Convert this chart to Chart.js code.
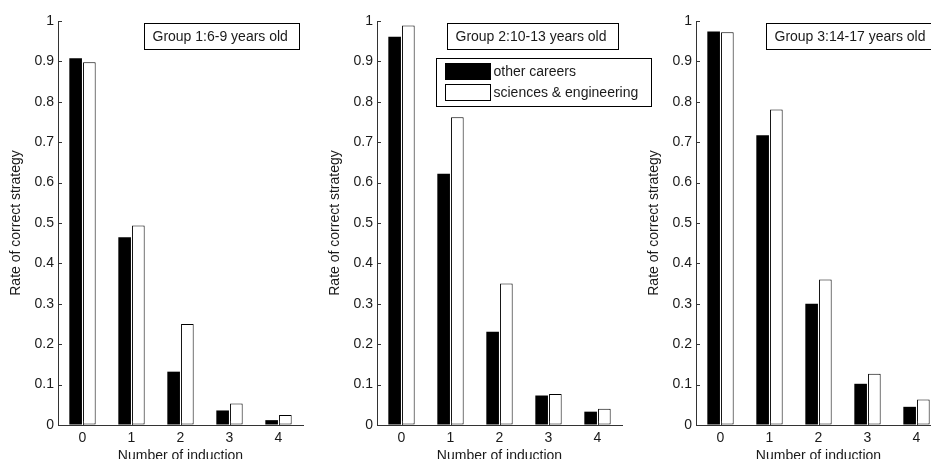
<!DOCTYPE html>
<html>
<head>
<meta charset="utf-8">
<script src="https://cdn.jsdelivr.net/npm/chart.js@4/dist/chart.umd.min.js"></script>
<style>
  html, body { margin: 0; padding: 0; background: #fff; }
  #wrap { position: relative; width: 931px; height: 459px; overflow: hidden; }
  #wrap canvas { position: absolute; left: 0; top: 0; }
</style>
</head>
<body>
<div id="wrap">
  <canvas id="c1" width="960" height="459"></canvas>
  <canvas id="c2" width="960" height="459"></canvas>
  <canvas id="c3" width="960" height="459"></canvas>
</div>
<script>
// data
const inductions = [0, 1, 2, 3, 4];
const yTicks = [0, 0.1, 0.2, 0.3, 0.4, 0.5, 0.6, 0.7, 0.8, 0.9, 1];
const seriesNames = ['other careers', 'sciences & engineering'];
const groupTitles = ['Group 1:6-9 years old', 'Group 2:10-13 years old', 'Group 3:14-17 years old'];

const g1Other = [0.908, 0.465, 0.132, 0.036, 0.012];
const g1Science = [0.898, 0.494, 0.250, 0.053, 0.025];
const g2Other = [0.961, 0.622, 0.231, 0.073, 0.033];
const g2Science = [0.989, 0.762, 0.350, 0.077, 0.040];
const g3Other = [0.974, 0.717, 0.300, 0.102, 0.045];
const g3Science = [0.972, 0.781, 0.360, 0.127, 0.063];

const FONT = 'Liberation Sans, Arial, sans-serif';
const TXT = '#1a1a1a';
const AXIS = '#333';

// inside tick marks + the boxed group title (+ legend on the middle plot)
const decor = {
  id: 'decor',
  afterDraw(chart, args, opts) {
    const ctx = chart.ctx;
    const a = chart.chartArea;
    const xs = chart.scales.x, ys = chart.scales.y;
    ctx.save();
    ctx.strokeStyle = AXIS;
    ctx.lineWidth = 1;
    ctx.beginPath();
    yTicks.forEach(v => {
      const y = Math.round(ys.getPixelForValue(v)) + 0.5;
      ctx.moveTo(a.left, y); ctx.lineTo(a.left + 4, y);
    });
    inductions.forEach(v => {
      const x = Math.round(xs.getPixelForValue(v)) + 0.5;
      ctx.moveTo(x, a.bottom); ctx.lineTo(x, a.bottom - 4);
    });
    ctx.stroke();

    // title box
    ctx.font = '14px ' + FONT;
    const tw = ctx.measureText(opts.title).width;
    const bw = Math.round(tw + 20);
    const bx = Math.round(a.right - 4 - bw) + 0.5;
    ctx.fillStyle = '#fff';
    ctx.fillRect(bx, 23.5, bw, 26);
    ctx.strokeStyle = '#000';
    ctx.strokeRect(bx, 23.5, bw, 26);
    ctx.fillStyle = TXT;
    ctx.textBaseline = 'middle';
    ctx.fillText(opts.title, bx + 8, 37);

    if (opts.legend) {
      const lx = Math.round(a.left + 59) + 0.5;
      ctx.fillStyle = '#fff';
      ctx.fillRect(lx, 58.5, 215, 48);
      ctx.strokeStyle = '#000';
      ctx.strokeRect(lx, 58.5, 215, 48);
      const sw = [{y: 63.5, fill: '#000'}, {y: 84.5, fill: '#fff'}];
      sw.forEach((s, i) => {
        ctx.fillStyle = s.fill;
        ctx.fillRect(lx + 9, s.y, 45, 16);
        ctx.strokeStyle = '#000';
        ctx.strokeRect(lx + 9, s.y, 45, 16);
        ctx.fillStyle = TXT;
        ctx.fillText(seriesNames[i], lx + 57, s.y + 8.5);
      });
    }
    ctx.restore();
  }
};

function makeChart(id, left, other, science, title, legend) {
  const right = left + 245;
  return new Chart(document.getElementById(id), {
    type: 'bar',
    data: {
      datasets: [
        {
          label: seriesNames[0],
          data: inductions.map((x, i) => ({x, y: other[i]})),
          backgroundColor: '#000',
          borderColor: '#000',
          borderWidth: 0
        },
        {
          label: seriesNames[1],
          data: inductions.map((x, i) => ({x, y: science[i]})),
          backgroundColor: '#fff',
          borderColor: '#000',
          borderWidth: 1,
          borderSkipped: false
        }
      ]
    },
    options: {
      responsive: false,
      animation: false,
      devicePixelRatio: 1,
      categoryPercentage: 0.56,
      barPercentage: 0.92,
      layout: {padding: {left: left - 58, right: 960 - right, top: 21, bottom: 0}},
      plugins: {
        legend: {display: false},
        tooltip: {enabled: false},
        decor: {title, legend}
      },
      scales: {
        x: {
          type: 'linear',
          offset: false,
          min: -0.5,
          max: 4.5,
          afterBuildTicks: s => { s.ticks = inductions.map(v => ({value: v})); },
          afterFit: s => { s.height = 34; },
          grid: {display: true, offset: false, drawOnChartArea: false, drawTicks: false},
          border: {display: true, color: AXIS},
          ticks: {color: TXT, font: {family: FONT, size: 14}, padding: 5, maxRotation: 0},
          title: {display: true, text: 'Number of induction', color: TXT,
                  font: {family: FONT, size: 14}, padding: {top: 0, bottom: -6}}
        },
        y: {
          min: 0,
          max: 1,
          afterBuildTicks: s => { s.ticks = yTicks.map(v => ({value: v})); },
          afterFit: s => { s.width = 58; },
          grid: {display: true, drawOnChartArea: false, drawTicks: false},
          border: {display: true, color: AXIS},
          ticks: {color: TXT, font: {family: FONT, size: 14}, padding: 4,
                  callback: v => String(v)},
          title: {display: true, text: 'Rate of correct strategy', color: TXT,
                  font: {family: FONT, size: 14}, padding: {top: 8, bottom: 0}}
        }
      }
    },
    plugins: [decor]
  });
}

makeChart('c1', 58, g1Other, g1Science, groupTitles[0], false);
makeChart('c2', 377, g2Other, g2Science, groupTitles[1], true);
makeChart('c3', 696, g3Other, g3Science, groupTitles[2], false);
</script>
</body>
</html>
